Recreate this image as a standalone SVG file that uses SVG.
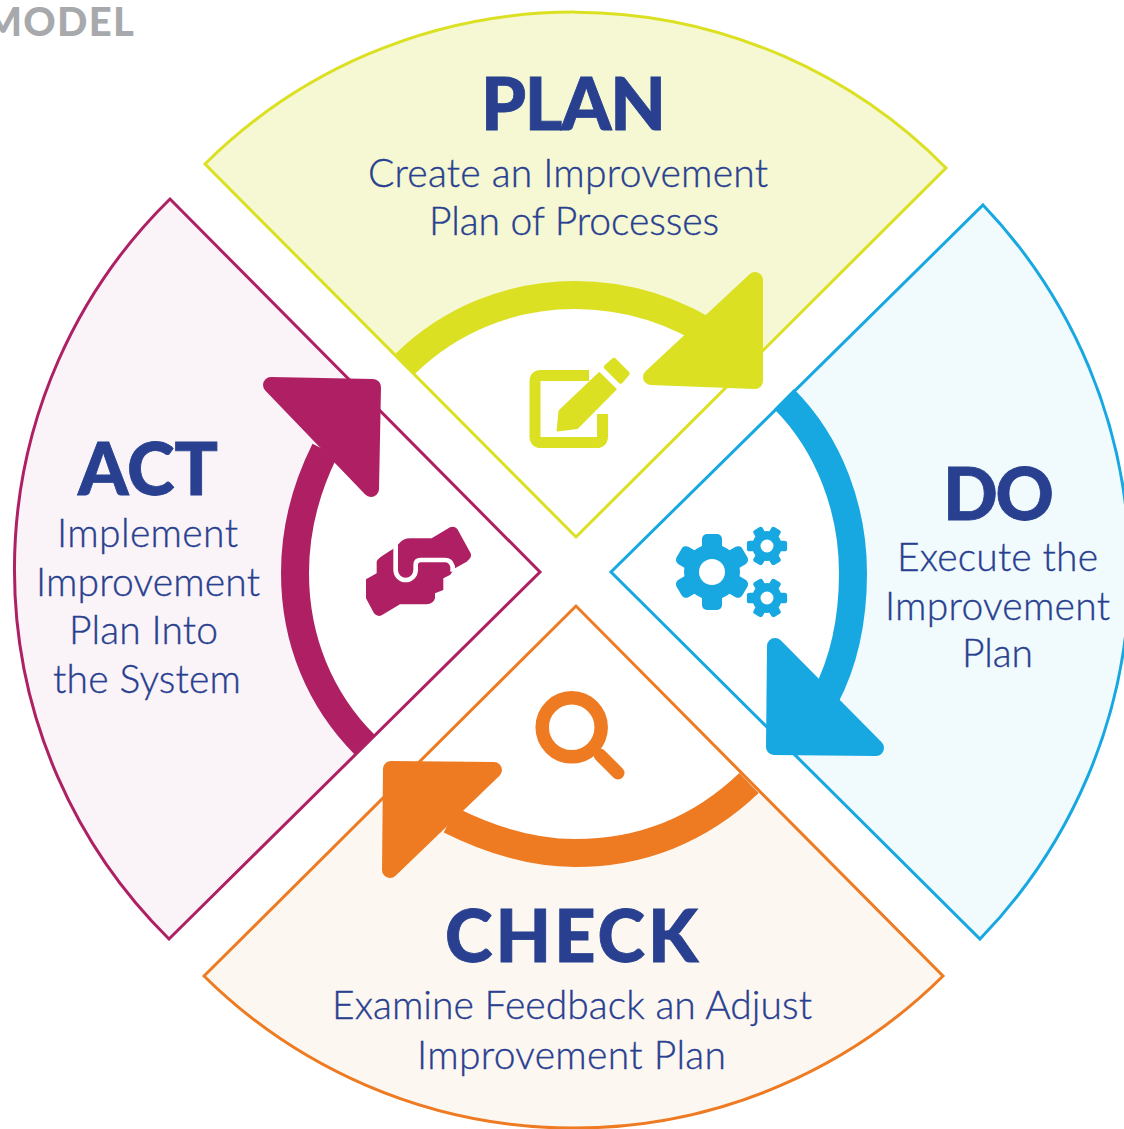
<svg xmlns="http://www.w3.org/2000/svg" width="1124" height="1129" viewBox="0 0 1124 1129">
<style>
text{font-family:"Lato","Liberation Sans",sans-serif;fill:#28408f}
.h{font-weight:900;font-size:72px;stroke:#28408f;stroke-width:.8}
.b{font-weight:300;font-size:39px;stroke:#28408f;stroke-width:.35}
.o{fill:none;stroke-width:3;stroke-linejoin:miter}
.s{fill:none;stroke-width:28}
.a{stroke-width:16;stroke-linejoin:round}
</style>
<defs>
<g id="gear">
<circle r="28"/>
<g id="teeth"><rect x="-10" y="-38" width="20" height="76" rx="5"/><rect x="-10" y="-38" width="20" height="76" rx="5" transform="rotate(60)"/><rect x="-10" y="-38" width="20" height="76" rx="5" transform="rotate(120)"/></g>
</g>
</defs>
<rect width="1124" height="1129" fill="#fff"/>
<text x="-16" y="36" textLength="150" style="font-size:40px;font-weight:900;fill:#a7a9ac">MODEL</text>
<g id="plan">
<path d="M205 164A523 523 0 0 1 946 168L753 360A278 278 0 0 0 398 359Z" fill="#f5f8d2"/>
<path class="o" stroke="#dbe022" d="M205 164A523 523 0 0 1 946 168L576 537Z"/>
<text class="h" x="481" y="130" textLength="185">PLAN</text>
<text class="b" x="368" y="187" textLength="400">Create an Improvement</text>
<text class="b" x="429" y="235" textLength="290">Plan of Processes</text>
<g fill="#dbe022">
<path d="M589 375.500H541Q535 375.500 535 381.500V436.500Q535 442.500 541 442.500H596.500Q602.500 442.500 602.500 436.500V414" fill="none" stroke="#dbe022" stroke-width="11"/>
<path d="M599.300 372.700L616 389.300L577.300 428.300L557.300 430.700L559.300 410.700Z" stroke="#dbe022" stroke-width="1.500" stroke-linejoin="round"/>
<path d="M614 361L626.500 373.500L620.500 380.500L607 367Z" stroke="#dbe022" stroke-width="6" stroke-linejoin="round"/>
</g>
</g>
<g id="do">
<path d="M983 205A529 529 0 0 1 980 939L789 750A278 278 0 0 0 789 394Z" fill="#f1fafd"/>
<path class="o" stroke="#17a8e1" d="M983 205A529 529 0 0 1 980 939L611 572Z"/>
<text class="h" x="943" y="520" textLength="111">DO</text>
<text class="b" x="897" y="571" textLength="201">Execute the</text>
<text class="b" x="885" y="620" textLength="225">Improvement</text>
<text class="b" x="962" y="667" textLength="71">Plan</text>
<g fill="#17a8e1">
<use href="#gear" x="712" y="572"/>
<circle cx="712" cy="572" r="13" fill="#fff"/>
<use href="#gear" transform="translate(767 546) rotate(30) scale(.53)"/>
<circle cx="767" cy="546" r="6.500" fill="#fff"/>
<use href="#gear" transform="translate(767 598) rotate(30) scale(.53)"/>
<circle cx="767" cy="598" r="6.500" fill="#fff"/>
</g>
</g>
<g id="check">
<path d="M204 976L398 784A278 278 0 0 0 754 784L943 976A525 525 0 0 1 204 976Z" fill="#fdf7f2"/>
<path class="o" stroke="#ee7b22" d="M204 976L576 606L943 976A525 525 0 0 1 204 976Z"/>
<text class="h" x="445" y="962" textLength="253">CHECK</text>
<text class="b" x="332" y="1019" textLength="480">Examine Feedback an Adjust</text>
<text class="b" x="417" y="1069" textLength="309">Improvement Plan</text>
<circle cx="571.700" cy="727.300" r="29.500" fill="none" stroke="#ee7b22" stroke-width="13.500"/>
<path d="M600 755L618 773" stroke="#ee7b22" stroke-width="13" stroke-linecap="round"/>
</g>
<g id="act">
<path d="M170 199L362 394A278 278 0 0 0 362 750L169 939A519 519 0 0 1 170 199Z" fill="#faf4f9"/>
<path class="o" stroke="#ae2063" d="M170 199L540 572L169 939A519 519 0 0 1 170 199Z"/>
<text class="h" x="78" y="495" textLength="140">ACT</text>
<text class="b" x="57" y="547" textLength="181">Implement</text>
<text class="b" x="36" y="596" textLength="224">Improvement</text>
<text class="b" x="69" y="644" textLength="149">Plan Into</text>
<text class="b" x="53" y="693" textLength="188">the System</text>
<g transform="translate(350 510) scale(.3333)">
<path fill="#ae2063" d="M48 208L80 190V155Q82 145 128 118L148 100Q160 85 180 85H245L300 52Q312 46 322 57L362 130Q368 142 350 155L315 175L300 195L280 205V240L255 250V265Q250 282 230 283H150L95 316Q82 322 72 310L48 265Z"/>
<path fill="none" stroke="#fff" stroke-width="14" d="M137 100V180A30 30 0 0 0 197 180V165Q197 150 212 150H285Q303 150 308 170V185"/>
</g>
</g>
<g id="connectors">
<path class="s" stroke="#dbe022" d="M405 364C450 320 510 295 575 295C625 295 675 310 720 340"/>
<path class="a" fill="#dbe022" stroke="#dbe022" d="M755 280V381L651 377Z"/>
<path class="s" stroke="#17a8e1" d="M784 399C830 445 853 510 853 573C853 620 845 660 825 698"/>
<path class="a" fill="#17a8e1" stroke="#17a8e1" d="M775 646L774 747L876 748Z"/>
<path class="s" stroke="#ee7b22" d="M749 783C700 830 640 853 575 853C530 853 490 840 450 820"/>
<path class="a" fill="#ee7b22" stroke="#ee7b22" d="M390 870L391 769L494 770Z"/>
<path class="s" stroke="#ae2063" d="M365 745C320 700 295 640 295 573C295 530 305 490 325 450"/>
<path class="a" fill="#ae2063" stroke="#ae2063" d="M271 385L373 387L371 489Z"/>
</g>
</svg>
